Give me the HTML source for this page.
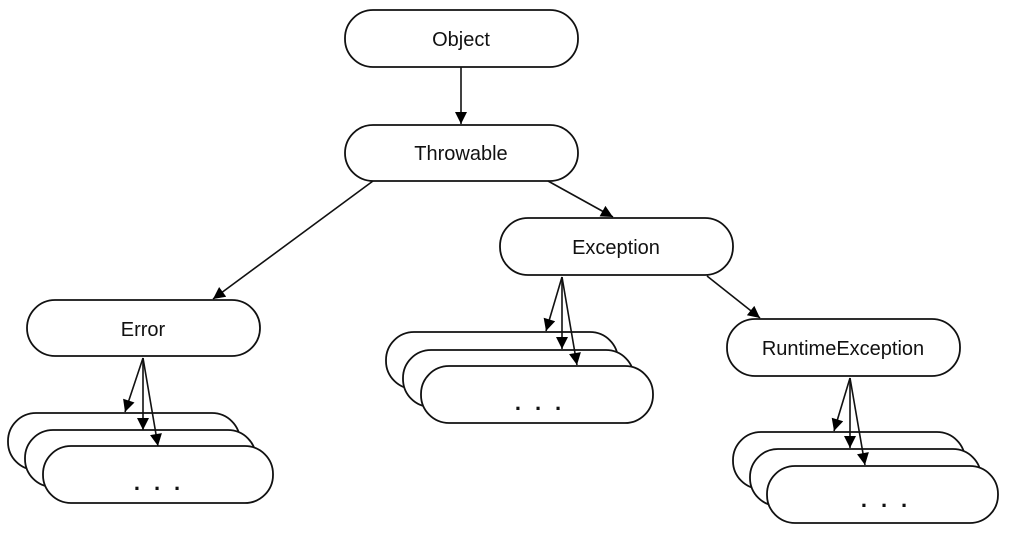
<!DOCTYPE html>
<html><head><meta charset="utf-8"><style>
html,body{margin:0;padding:0;background:#fff;}
svg{display:block}
text{font-family:"Liberation Sans",sans-serif;font-size:20px;fill:#111;text-anchor:middle}
.d{font-size:22px;letter-spacing:14px;font-weight:bold}
</style></head><body>
<svg width="1010" height="536" viewBox="0 0 1010 536" xmlns="http://www.w3.org/2000/svg">
<defs>
<marker id="b" viewBox="0 0 10 10" refX="10" refY="5" markerWidth="16" markerHeight="12" markerUnits="userSpaceOnUse" orient="auto">
<path d="M0,0 L10,5 L0,10 z" fill="#000"/></marker>
</defs>
<g fill="#fff" stroke="#111" stroke-width="1.8">
<rect x="345" y="10" width="233" height="57" rx="28"/>
<rect x="345" y="125" width="233" height="56" rx="28"/>
<rect x="500" y="218" width="233" height="57" rx="28"/>
<rect x="27" y="300" width="233" height="56" rx="28"/>
<rect x="727" y="319" width="233" height="57" rx="28"/>

<rect x="8" y="413" width="232" height="57" rx="28"/>
<rect x="25" y="430" width="231" height="57" rx="28"/>
<rect x="43" y="446" width="230" height="57" rx="28"/>

<rect x="386" y="332" width="232" height="57" rx="28"/>
<rect x="403" y="350" width="231" height="57" rx="28"/>
<rect x="421" y="366" width="232" height="57" rx="28"/>

<rect x="733" y="432" width="232" height="57" rx="28"/>
<rect x="750" y="449" width="231" height="57" rx="28"/>
<rect x="767" y="466" width="231" height="57" rx="28"/>
</g>
<g stroke="#111" stroke-width="1.6" fill="none">
<line x1="461" y1="67" x2="461" y2="124" marker-end="url(#b)"/>
<line x1="373" y1="181" x2="213" y2="299" marker-end="url(#b)"/>
<line x1="548" y1="181" x2="613" y2="217" marker-end="url(#b)"/>
<line x1="707" y1="276" x2="760" y2="318" marker-end="url(#b)"/>

<line x1="143" y1="358" x2="125" y2="412" marker-end="url(#b)"/>
<line x1="143" y1="358" x2="143" y2="430" marker-end="url(#b)"/>
<line x1="143" y1="358" x2="158" y2="446" marker-end="url(#b)"/>

<line x1="562" y1="277" x2="546" y2="331" marker-end="url(#b)"/>
<line x1="562" y1="277" x2="562" y2="349" marker-end="url(#b)"/>
<line x1="562" y1="277" x2="577" y2="365" marker-end="url(#b)"/>

<line x1="850" y1="378" x2="834" y2="431" marker-end="url(#b)"/>
<line x1="850" y1="378" x2="850" y2="448" marker-end="url(#b)"/>
<line x1="850" y1="378" x2="865" y2="465" marker-end="url(#b)"/>
</g>
<text x="461" y="46">Object</text>
<text x="461" y="160">Throwable</text>
<text x="616" y="254">Exception</text>
<text x="143" y="336">Error</text>
<text x="843" y="355">RuntimeException</text>
<text class="d" x="164" y="490">...</text>
<text class="d" x="545" y="410">...</text>
<text class="d" x="891" y="507">...</text>
</svg>
</body></html>
